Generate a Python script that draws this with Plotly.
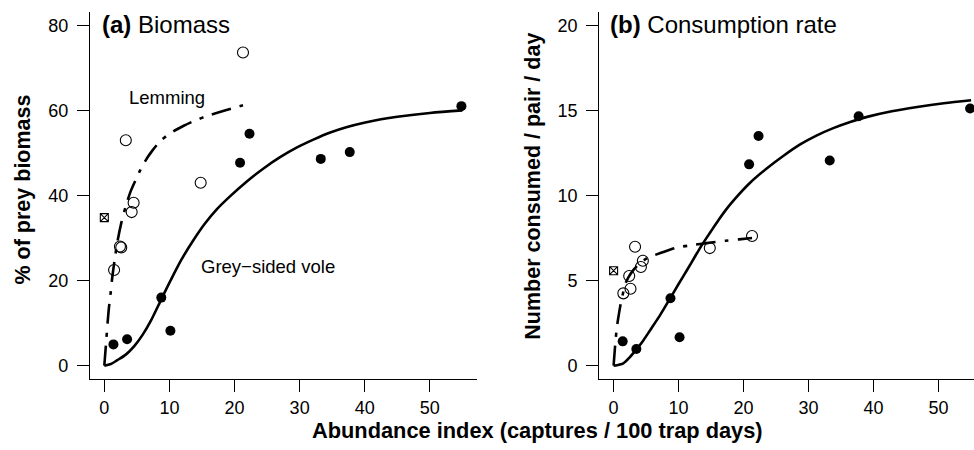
import plotly.graph_objects as go

# ---------------- data ----------------
# Lemming (open circles)
lem_x = [1.5, 2.4, 2.6, 3.3, 4.2, 4.5, 14.8, 21.3]
lem_biomass = [22.5, 28.0, 27.8, 53.0, 36.1, 38.3, 43.0, 73.6]
lem_consumption = [4.25, 5.27, 4.52, 6.99, 5.8, 6.17, 6.91, 7.62]

# Special point (crossed square)
special_x = [0.0]
special_biomass = [34.8]
special_consumption = [5.58]

# Grey-sided vole (filled circles)
vole_x = [1.4, 3.5, 8.75, 10.15, 20.85, 22.3, 33.25, 37.7, 54.85]
vole_biomass = [5.0, 6.2, 16.0, 8.2, 47.7, 54.5, 48.6, 50.2, 61.0]
vole_consumption = [1.43, 0.98, 3.96, 1.67, 11.83, 13.5, 12.06, 14.66, 15.11]

# Fitted curves
vole_fit_a_x = [0, 1.0, 2.0, 3.3, 4.6, 5.9, 7.2, 8.75, 10.2, 11.8, 13.6, 15.4, 17.3, 19.3,
                21.8, 24.4, 27.0, 29.6, 32.2, 34.7, 37.3, 39.9, 42.5, 45.0, 50.0, 55.0]
vole_fit_a_y = [0, 0.4, 1.3, 2.6, 4.6, 7.3, 10.7, 15.6, 20.1, 24.8, 29.3, 33.3, 36.8, 39.8,
                43.2, 46.3, 49.0, 51.3, 53.2, 54.8, 56.1, 57.1, 57.9, 58.5, 59.4, 60.0]

lem_fit_a_x = [0, 0.25, 0.5, 0.7, 1.0, 1.2, 1.6, 2.0, 2.6, 3.3, 4.0, 4.8, 5.5, 6.2, 7.4,
               8.75, 10.5, 12.2, 13.9, 16.0, 18.5, 21.3]
lem_fit_a_y = [0, 5.0, 10.0, 13.5, 17.5, 20.5, 25.0, 29.0, 33.5, 37.5, 40.8, 43.6, 45.9, 47.9, 50.6,
               53.0, 55.0, 56.4, 57.6, 58.8, 60.0, 61.2]

vole_fit_b_x = [0, 1.5, 2.5, 3.6, 4.6, 5.65, 7.2, 8.7, 10.0, 11.3, 12.5, 13.6, 14.9, 16.15,
                17.3, 18.5, 21.0, 23.6, 26.2, 28.7, 31.2, 33.8, 36.4, 39.0, 42.8, 46.7, 50.8, 55.0]
vole_fit_b_y = [0, 0.14, 0.5, 1.0, 1.5, 2.1, 3.0, 3.96, 4.8, 5.62, 6.4, 7.1, 7.85, 8.56,
                9.17, 9.73, 10.75, 11.6, 12.35, 13.0, 13.52, 13.96, 14.32, 14.62, 14.95, 15.2, 15.42, 15.6]

lem_fit_b_x = [0, 0.26, 0.52, 0.8, 1.0, 1.3, 1.8, 2.3, 3.0, 4.0, 5.1, 6.0, 7.2, 8.5, 9.75,
               11.5, 13.3, 15.3, 17.2, 19.3, 21.3]
lem_fit_b_y = [0, 1.3, 2.3, 3.0, 3.45, 4.0, 4.8, 5.2, 5.6, 6.0, 6.3, 6.45, 6.62, 6.8, 6.95,
               7.05, 7.15, 7.25, 7.34, 7.42, 7.5]

x_ticks = [0, 10, 20, 30, 40, 50]
y_ticks_a = [0, 20, 40, 60, 80]
y_ticks_b = [0, 5, 10, 15, 20]

# ---------------- figure ----------------
W, H = 974, 450
FONT = "Liberation Sans, Arial, Helvetica, sans-serif"
DASHDOT = "20px,9px,4px,9px"

fig = go.Figure()


def add_panel(xa, ya, vx, vy, lx, ly, sx, sy, vfx, vfy, lfx, lfy):
    fig.add_trace(go.Scatter(x=vx, y=vy, mode="markers", xaxis=xa, yaxis=ya,
                             marker=dict(symbol="circle", size=10, color="black"),
                             cliponaxis=False, showlegend=False))
    fig.add_trace(go.Scatter(x=lx, y=ly, mode="markers", xaxis=xa, yaxis=ya,
                             marker=dict(symbol="circle-open", size=11, color="black",
                                         line=dict(width=1.1, color="black")),
                             cliponaxis=False, showlegend=False))
    fig.add_trace(go.Scatter(x=sx, y=sy, mode="markers", xaxis=xa, yaxis=ya,
                             marker=dict(symbol="square-x-open", size=8, color="black",
                                         line=dict(width=1.1, color="black")),
                             cliponaxis=False, showlegend=False))
    fig.add_trace(go.Scatter(x=vfx, y=vfy, mode="lines", xaxis=xa, yaxis=ya,
                             line=dict(color="black", width=2.6, shape="spline",
                                       smoothing=0.8, simplify=False),
                             cliponaxis=False, showlegend=False))
    fig.add_trace(go.Scatter(x=lfx, y=lfy, mode="lines", xaxis=xa, yaxis=ya,
                             line=dict(color="black", width=2.6, dash=DASHDOT,
                                       shape="spline", smoothing=0.8, simplify=False),
                             cliponaxis=False, showlegend=False))


add_panel("x", "y", vole_x, vole_biomass, lem_x, lem_biomass,
          special_x, special_biomass, vole_fit_a_x, vole_fit_a_y, lem_fit_a_x, lem_fit_a_y)
add_panel("x2", "y2", vole_x, vole_consumption, lem_x, lem_consumption,
          special_x, special_consumption, vole_fit_b_x, vole_fit_b_y, lem_fit_b_x, lem_fit_b_y)

axis_common = dict(showline=True, linecolor="black", linewidth=1.3, showgrid=False,
                   zeroline=False, ticks="outside", ticklen=12, tickwidth=1.3,
                   tickcolor="black", tickfont=dict(family=FONT, size=18, color="black"),
                   fixedrange=True)

ybot = 1 - 379.3 / H
ytop = 1 - 11.7 / H

fig.update_layout(
    width=W, height=H, margin=dict(l=0, r=0, t=0, b=0),
    paper_bgcolor="white", plot_bgcolor="white",
    xaxis=dict(domain=[90 / W, 476.7 / W], range=[-2.2, 57.2], tickvals=x_ticks,
               anchor="y", **axis_common),
    yaxis=dict(domain=[ybot, ytop], range=[-3.2, 83.2], tickvals=y_ticks_a,
               anchor="x", ticklabelstandoff=5, **axis_common),
    xaxis2=dict(domain=[599.3 / W, 1.0], range=[-2.2, 55.45], tickvals=x_ticks,
                anchor="y2", **axis_common),
    yaxis2=dict(domain=[ybot, ytop], range=[-0.8, 20.8], tickvals=y_ticks_b,
                anchor="x2", ticklabelstandoff=5, **axis_common),
)

ann = []
ann.append(dict(text="<b>(a)</b> Biomass", xref="paper", yref="paper",
                x=100 / W, y=1 - 24 / H, xanchor="left", yanchor="middle",
                showarrow=False, font=dict(family=FONT, size=24, color="black")))
ann.append(dict(text="<b>(b)</b> Consumption rate", xref="paper", yref="paper",
                x=608.3 / W, y=1 - 24 / H, xanchor="left", yanchor="middle",
                showarrow=False, font=dict(family=FONT, size=24, color="black")))
ann.append(dict(text="Lemming", xref="x", yref="y", x=9.57, y=63.1,
                xanchor="center", yanchor="middle", showarrow=False,
                font=dict(family=FONT, size=18.5, color="black")))
ann.append(dict(text="Grey\u2212sided vole", xref="x", yref="y", x=25.1, y=23.2,
                xanchor="center", yanchor="middle", showarrow=False,
                font=dict(family=FONT, size=18.5, color="black")))
ann.append(dict(text="<b>Abundance index (captures / 100 trap days)</b>",
                xref="paper", yref="paper", x=537.5 / W, y=1 - 430 / H,
                xanchor="center", yanchor="middle", showarrow=False,
                font=dict(family=FONT, size=21.8, color="black")))
ann.append(dict(text="<b>% of prey biomass</b>", xref="paper", yref="paper",
                x=22.5 / W, y=1 - 190 / H, xanchor="center", yanchor="middle",
                textangle=-90, showarrow=False,
                font=dict(family=FONT, size=21.5, color="black")))
ann.append(dict(text="<b>Number consumed / pair / day</b>", xref="paper", yref="paper",
                x=533 / W, y=1 - 186.7 / H, xanchor="center", yanchor="middle",
                textangle=-90, showarrow=False,
                font=dict(family=FONT, size=21.5, color="black")))
fig.update_layout(annotations=ann)

fig.write_html("out.html")
